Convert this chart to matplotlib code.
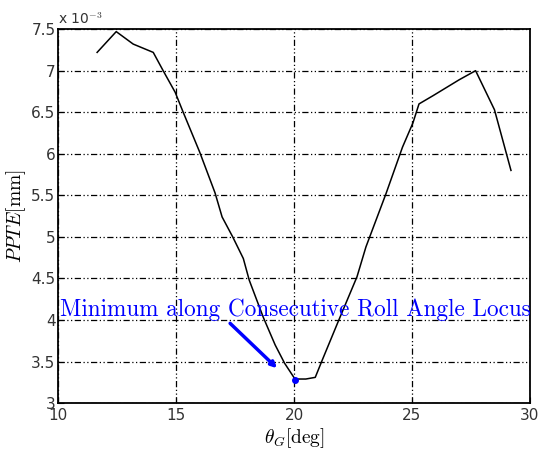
import numpy as np
import matplotlib.pyplot as plt

# roll angle (deg) and PPTE (x 1e-3 mm)
theta_g = [11.65, 12.46, 13.18, 14.03, 14.45, 14.96, 15.3, 16.0, 16.65, 16.95,
           17.4, 17.85, 18.1, 18.7, 19.2, 19.6, 20.04, 20.5, 20.9, 21.2,
           21.9, 22.67, 23.05, 23.9, 24.6, 25.04, 25.3, 25.9, 27.0, 27.7,
           28.5, 29.2]
ppte = [7.22, 7.47, 7.32, 7.22, 7.0, 6.74, 6.5, 6.02, 5.53, 5.24,
        5.0, 4.74, 4.48, 4.03, 3.70, 3.48, 3.29, 3.29, 3.31, 3.52,
        4.0, 4.52, 4.88, 5.52, 6.08, 6.37, 6.6, 6.70, 6.89, 7.0,
        6.53, 5.80]
min_theta, min_ppte = 20.05, 3.28
note = "Minimum along Consecutive Roll Angle Locus"

plt.rcParams["mathtext.fontset"] = "cm"

fig = plt.figure(figsize=(5.39, 4.55), dpi=100)
ax = fig.add_axes([0.108, 0.114, 0.875, 0.822])

ax.plot(theta_g, ppte, color="black", lw=1.1)
ax.plot(min_theta, min_ppte, "o", color="blue", ms=4)

ax.annotate("", xy=(19.28, 3.42), xytext=(17.29, 3.96),
            arrowprops=dict(arrowstyle="-|>", color="blue", lw=2.5,
                            mutation_scale=8, shrinkA=0, shrinkB=0))
ax.text(10.08, 4.12, note, color="blue", family="cmr10",
        fontsize=16.7, va="center", ha="left")

ax.set_xlim(10, 30)
ax.set_ylim(3, 7.5)
ax.set_xticks(np.arange(10, 31, 5))
ax.set_yticks(np.arange(3, 7.51, 0.5))
ax.set_yticklabels(["3", "3.5", "4", "4.5", "5", "5.5", "6", "6.5", "7", "7.5"])
ax.tick_params(direction="in", labelsize=11, length=4, colors="black")
ax.tick_params(axis="y", pad=2)
for lbl in ax.get_xticklabels() + ax.get_yticklabels():
    lbl.set_color("#333333")

ax.grid(True, color="black", lw=0.9, dashes=(5, 2, 1, 2, 1, 2))
for s in ax.spines.values():
    s.set_linewidth(1.3)

ax.set_xlabel(r"$\theta_G[\mathrm{deg}]$", fontsize=14, labelpad=2)
ax.set_ylabel(r"$PPTE[\mathrm{mm}]$", fontsize=14, labelpad=2)
ax.text(0.0, 1.005, r"x 10$^{-3}$", transform=ax.transAxes, fontsize=10,
        color="#333333", va="bottom", ha="left")

fig.savefig("out.png", dpi=100)
